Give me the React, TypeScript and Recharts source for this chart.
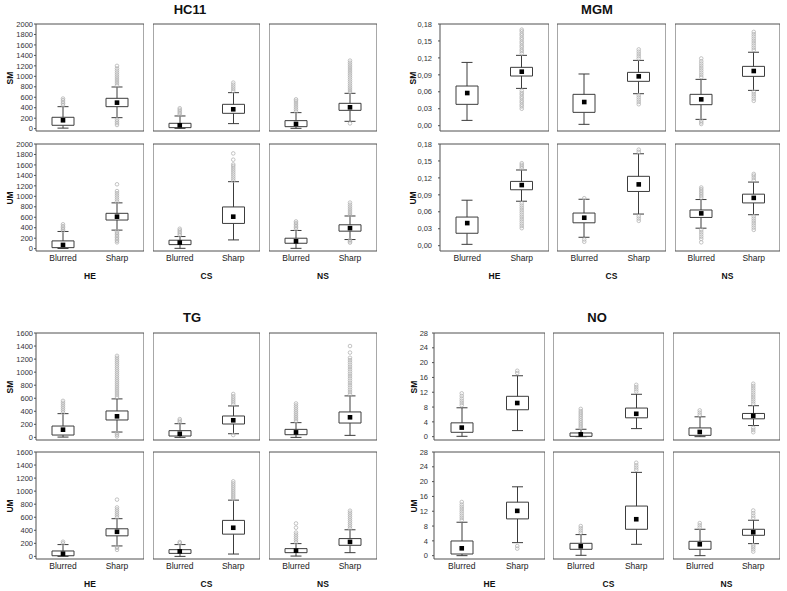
import React from 'react';
import { ComposedChart, Bar, Scatter, XAxis, YAxis, CartesianGrid } from 'recharts';

const categories = ['Blurred', 'Sharp'];
const groups = ['HE', 'CS', 'NS'];
const rowNames = ['SM', 'UM'];

// one entry per box: HE-Blurred, HE-Sharp, CS-Blurred, CS-Sharp, NS-Blurred, NS-Sharp
// [whisker low, q1, q3, whisker high, mean]
const hc11SM = [
  [10, 64, 217, 420, 160],
  [210, 420, 580, 796, 497],
  [5, 19, 102, 242, 64],
  [96, 293, 465, 688, 370],
  [6, 38, 153, 306, 90],
  [140, 350, 484, 675, 408],
];
const hc11SMOut = [
  [450, 480, 510, 545, 575],
  [830, 870, 910, 950, 990, 1030, 1070, 1110, 1150, 1200, 70, 105, 140, 175],
  [270, 300, 330, 360, 390],
  [720, 760, 800, 840, 880],
  [330, 370, 410, 450, 490, 530, 560],
  [700, 740, 780, 820, 860, 900, 940, 980, 1020, 1060, 1100, 1140, 1180, 1220, 1260, 1300, 100],
];
const hc11UM = [
  [3, 19, 148, 328, 71],
  [354, 547, 675, 875, 611],
  [6, 77, 161, 231, 116],
  [167, 482, 797, 1280, 611],
  [6, 103, 199, 347, 141],
  [174, 334, 456, 624, 392],
];
const hc11UMOut = [
  [340, 370, 400, 430, 465],
  [900, 940, 980, 1020, 1060, 1100, 1230, 120, 150, 180, 210, 240, 270, 300, 330],
  [260, 290, 320, 350, 380],
  [1300, 1340, 1380, 1420, 1460, 1500, 1540, 1580, 1610, 1700, 1820],
  [370, 400, 430, 460, 490, 520],
  [640, 680, 720, 760, 800, 840, 880, 115, 140, 165],
];

const mgmSM = [
  [0.0094, 0.0378, 0.0702, 0.112, 0.0578],
  [0.066, 0.0879, 0.1033, 0.1245, 0.0956],
  [0.0024, 0.0236, 0.0555, 0.0915, 0.0419],
  [0.0566, 0.0785, 0.0944, 0.1156, 0.0873],
  [0.0112, 0.0372, 0.0555, 0.082, 0.0466],
  [0.0625, 0.0873, 0.105, 0.13, 0.0968],
];
const mgmSMOut = [
  [],
  [0.128, 0.132, 0.135, 0.139, 0.142, 0.146, 0.149, 0.153, 0.156, 0.16, 0.163, 0.167, 0.17,
    0.03, 0.034, 0.037, 0.041, 0.044, 0.048, 0.051, 0.055, 0.058, 0.062],
  [],
  [0.119, 0.123, 0.127, 0.131, 0.135, 0.038, 0.042, 0.046, 0.05, 0.054],
  [0.086, 0.09, 0.094, 0.098, 0.102, 0.106, 0.11, 0.114, 0.119, 0.003, 0.006, 0.009],
  [0.134, 0.138, 0.142, 0.146, 0.15, 0.154, 0.158, 0.162, 0.166, 0.044, 0.048, 0.052, 0.056, 0.06],
];
const mgmUM = [
  [0.0024, 0.022, 0.0507, 0.0805, 0.04],
  [0.0787, 0.099, 0.1138, 0.134, 0.1073],
  [0.0149, 0.0405, 0.0578, 0.0822, 0.0495],
  [0.056, 0.096, 0.1228, 0.1627, 0.1085],
  [0.031, 0.05, 0.0632, 0.0817, 0.0572],
  [0.0548, 0.0757, 0.0912, 0.1126, 0.0846],
];
const mgmUMOut = [
  [],
  [0.137, 0.14, 0.143, 0.146, 0.031, 0.035, 0.039, 0.043, 0.047, 0.051, 0.055, 0.059, 0.063, 0.067, 0.071, 0.075],
  [0.084, 0.007, 0.011],
  [0.166, 0.17, 0.044, 0.048, 0.052],
  [0.085, 0.088, 0.091, 0.094, 0.097, 0.1, 0.103, 0.006, 0.012, 0.016, 0.02, 0.024, 0.028],
  [0.116, 0.12, 0.124, 0.127, 0.028, 0.032, 0.036, 0.04, 0.044, 0.048, 0.052],
];

const tgSM = [
  [5, 36, 174, 364, 118],
  [82, 267, 405, 590, 323],
  [0, 21, 103, 210, 56],
  [56, 205, 328, 482, 262],
  [0, 41, 123, 226, 77],
  [31, 220, 390, 636, 308],
];
const tgSMOut = [
  [380, 410, 440, 470, 500, 530, 560],
  [620, 650, 680, 710, 740, 770, 800, 830, 860, 890, 920, 950, 980, 1010, 1040, 1070, 1100, 1130,
    1160, 1190, 1220, 1250, 15, 40, 65],
  [230, 255, 280],
  [510, 540, 570, 600, 630, 665, 36],
  [250, 280, 310, 340, 370, 400, 430, 460, 490, 520],
  [660, 695, 730, 765, 800, 835, 870, 905, 940, 975, 1010, 1045, 1080, 1115, 1150, 1185, 1220, 1300, 1400],
];
const tgUM = [
  [0, 10, 83, 181, 41],
  [160, 315, 423, 578, 377],
  [0, 46, 103, 181, 77],
  [36, 341, 552, 862, 439],
  [5, 57, 119, 196, 88],
  [57, 170, 273, 408, 222],
];
const tgUMOut = [
  [200, 225],
  [600, 630, 660, 690, 720, 750, 870, 100, 130, 150],
  [200, 220],
  [880, 910, 940, 970, 1000, 1030, 1060, 1090, 1120, 1150],
  [215, 245, 275, 305, 335, 365, 440, 505],
  [430, 460, 490, 520, 550, 580, 610, 640, 670, 700],
];

const noSM = [
  [0.1, 1.18, 3.73, 7.8, 2.45],
  [1.64, 7.27, 10.9, 16.45, 9.09],
  [0, 0.09, 1.0, 2.0, 0.64],
  [2.18, 5.09, 7.73, 11.45, 6.18],
  [0, 0.36, 2.36, 5.36, 1.27],
  [3.0, 4.82, 6.27, 8.36, 5.64],
];
const noSMOut = [
  [8.5, 9.1, 9.7, 10.3, 11.0, 11.7],
  [17.2, 17.8],
  [2.4, 2.9, 3.4, 3.9, 4.4, 4.9, 5.4, 5.9, 6.4, 6.9, 7.5],
  [12.2, 12.8, 13.4, 14.0],
  [5.9, 6.5, 7.1],
  [8.9, 9.5, 10.1, 10.7, 11.3, 11.9, 12.5, 13.1, 13.7, 14.3, 1.2, 1.8, 2.4],
];
const noUM = [
  [0, 0.45, 3.97, 9.03, 1.99],
  [3.52, 9.93, 14.45, 18.6, 12.1],
  [0.1, 1.72, 3.34, 5.69, 2.53],
  [3.07, 7.13, 13.4, 22.5, 9.84],
  [0, 1.72, 3.88, 7.13, 3.07],
  [3.25, 5.5, 7.13, 9.57, 6.32],
];
const noUMOut = [
  [9.6, 10.2, 10.8, 11.4, 12.0, 12.6, 13.2, 13.8, 14.5],
  [1.9, 2.6],
  [6.2, 6.8, 7.4, 8.0],
  [23.2, 23.8, 24.4, 25.1],
  [7.6, 8.2, 8.8],
  [10.2, 10.8, 11.5, 12.2, 1.1, 1.7, 2.3, 2.8],
];

const hc11Ticks = [0, 200, 400, 600, 800, 1000, 1200, 1400, 1600, 1800, 2000];
const mgmTicks = [0, 0.03, 0.06, 0.09, 0.12, 0.15, 0.18];
const tgTicks = [0, 200, 400, 600, 800, 1000, 1200, 1400, 1600];
const noTicks = [0, 4, 8, 12, 16, 20, 24, 28];

const PAD = 6;
const BOTTOM_PAD = 5;
const ROW_H = 107;
const LINE = '#3c3c3c';
const TICK = '#6a6a6a';
const FONT = '"Liberation Sans", Arial, sans-serif';

const intFmt = (v: number) => String(v);
const commaFmt = (v: number) => v.toFixed(2).replace('.', ',');

const panels = [
  {
    title: 'HC11', stats: [hc11SM, hc11UM], outs: [hc11SMOut, hc11UMOut], ticks: hc11Ticks,
    domain: [-45, 2000], fmt: intFmt, originX: 0, colLeft: [36, 153, 269], colW: [108, 107, 108],
    rowTop: [24, 144], tickGap: 1, titleX: 190, titleY: 9, rowLabelX: 10, groupY: 276,
  },
  {
    title: 'MGM', stats: [mgmSM, mgmUM], outs: [mgmSMOut, mgmUMOut], ticks: mgmTicks,
    domain: [-0.0094, 0.18], fmt: commaFmt, originX: 400, colLeft: [440, 557, 675], colW: [109, 109, 105],
    rowTop: [24, 144], tickGap: 6, titleX: 597, titleY: 9, rowLabelX: 413, groupY: 276,
  },
  {
    title: 'TG', stats: [tgSM, tgUM], outs: [tgSMOut, tgUMOut], ticks: tgTicks,
    domain: [-40, 1600], fmt: intFmt, originX: 0, colLeft: [36, 153, 269], colW: [108, 107, 108],
    rowTop: [333, 452], tickGap: 1, titleX: 192, titleY: 317, rowLabelX: 10, groupY: 584,
  },
  {
    title: 'NO', stats: [noSM, noUM], outs: [noSMOut, noUMOut], ticks: noTicks,
    domain: [-0.9, 28], fmt: intFmt, originX: 400, colLeft: [434, 553, 673], colW: [111, 111, 107],
    rowTop: [333, 452], tickGap: 4, titleX: 597, titleY: 317, rowLabelX: 414, groupY: 584,
  },
];

const CAP = 5.5;

const lowWhisker = (p: any) => {
  const cx = p.x + p.width / 2;
  const yb = p.y + p.height;
  return (
    <g stroke={LINE} strokeWidth={1}>
      <line x1={cx} y1={p.y} x2={cx} y2={yb} />
      <line x1={cx - CAP} y1={yb} x2={cx + CAP} y2={yb} />
    </g>
  );
};

const highWhisker = (p: any) => {
  const cx = p.x + p.width / 2;
  return (
    <g stroke={LINE} strokeWidth={1}>
      <line x1={cx} y1={p.y} x2={cx} y2={p.y + p.height} />
      <line x1={cx - CAP} y1={p.y} x2={cx + CAP} y2={p.y} />
    </g>
  );
};

const outlierDot = (p: any) => (
  <circle cx={p.cx} cy={p.cy} r={1.8} fill="none" stroke="#b4b4b4" strokeWidth={0.8} />
);

const meanMark = (p: any) => (
  <rect x={p.cx - 2.3} y={p.cy - 2.3} width={4.6} height={4.6} fill="#000" />
);

function Cell({ panel, r, g }: any) {
  const stats = panel.stats[r];
  const outs = panel.outs[r];
  const rows = categories.map((cat, i) => {
    const [lo, q1, q3, hi, mean] = stats[g * 2 + i];
    return { cat, base: lo, lowW: q1 - lo, box: q3 - q1, highW: hi - q3, mean };
  });
  const outData = categories.flatMap((cat, i) => outs[g * 2 + i].map((v: number) => ({ cat, v })));
  const first = g === 0;
  const yW = first ? panel.colLeft[0] - panel.originX : 0;
  const left = first ? panel.originX : panel.colLeft[g];
  const showX = r === 1;
  const bottom = showX ? 0 : BOTTOM_PAD;
  const h = PAD + ROW_H + (showX ? 16 : bottom);

  return (
    <div style={{ position: 'absolute', left, top: panel.rowTop[r] - PAD }}>
      <ComposedChart
        width={yW + panel.colW[g]}
        height={h}
        data={rows}
        margin={{ top: PAD, right: 0, bottom, left: 0 }}
        barSize={22}
      >
        <CartesianGrid
          stroke="#505050"
          horizontalCoordinatesGenerator={({ offset }: any) => [offset.top, offset.top + offset.height]}
          verticalCoordinatesGenerator={({ offset }: any) => [offset.left, offset.left + offset.width]}
        />
        <XAxis
          dataKey="cat"
          type="category"
          allowDuplicatedCategory={false}
          hide={!showX}
          height={16}
          axisLine={false}
          tickLine={false}
          tickSize={2}
          tickMargin={2}
          interval={0}
          tick={{ fontSize: 8.5, fill: '#222' }}
        />
        <XAxis
          xAxisId="top"
          orientation="top"
          mirror
          dataKey="cat"
          type="category"
          axisLine={false}
          tick={false}
          tickSize={2.5}
          tickLine={{ stroke: TICK }}
          interval={0}
        />
        <YAxis
          type="number"
          domain={panel.domain}
          ticks={panel.ticks}
          allowDataOverflow
          mirror={!first}
          width={yW || 1}
          axisLine={false}
          tickSize={first ? 2 : 2.5}
          tickLine={{ stroke: first ? '#505050' : TICK }}
          tickMargin={panel.tickGap}
          tickFormatter={panel.fmt}
          interval={0}
          tick={first ? { fontSize: 7.5, fill: '#333' } : false}
        />
        <YAxis
          yAxisId="right"
          orientation="right"
          mirror
          type="number"
          domain={panel.domain}
          ticks={panel.ticks}
          allowDataOverflow
          axisLine={false}
          tick={false}
          tickSize={2.5}
          tickLine={{ stroke: TICK }}
          interval={0}
        />
        <Bar dataKey="base" stackId="b" shape={() => <g />} isAnimationActive={false} />
        <Bar dataKey="lowW" stackId="b" shape={lowWhisker} isAnimationActive={false} />
        <Bar dataKey="box" stackId="b" fill="#fff" stroke={LINE} strokeWidth={1} isAnimationActive={false} />
        <Bar dataKey="highW" stackId="b" shape={highWhisker} isAnimationActive={false} />
        <Scatter data={outData} dataKey="v" shape={outlierDot} isAnimationActive={false} />
        <Scatter dataKey="mean" shape={meanMark} isAnimationActive={false} />
      </ComposedChart>
    </div>
  );
}

const centered = (x: number, y: number, extra: any = {}) => ({
  position: 'absolute' as const,
  left: x,
  top: y,
  transform: 'translate(-50%, -50%)',
  whiteSpace: 'nowrap' as const,
  lineHeight: 1,
  color: '#111',
  ...extra,
});

export default function App() {
  return (
    <div
      style={{
        position: 'absolute', left: 0, top: 0, width: 787, height: 591,
        background: '#fff', fontFamily: FONT, overflow: 'hidden',
      }}
    >
      {panels.map((p) => (
        <React.Fragment key={p.title}>
          <div style={centered(p.titleX, p.titleY, { fontSize: 13, fontWeight: 'bold' })}>{p.title}</div>
          {rowNames.map((rn, r) => (
            <div
              key={rn}
              style={centered(p.rowLabelX, p.rowTop[r] + ROW_H / 2, {
                fontSize: 8.5, fontWeight: 'bold', transform: 'translate(-50%, -50%) rotate(-90deg)',
              })}
            >
              {rn}
            </div>
          ))}
          {groups.map((gName, g) => (
            <div
              key={gName}
              style={centered(p.colLeft[g] + p.colW[g] / 2, p.groupY, { fontSize: 8.5, fontWeight: 'bold' })}
            >
              {gName}
            </div>
          ))}
          {[0, 1].map((r) =>
            [0, 1, 2].map((g) => <Cell key={`${r}-${g}`} panel={p} r={r} g={g} />)
          )}
        </React.Fragment>
      ))}
    </div>
  );
}
